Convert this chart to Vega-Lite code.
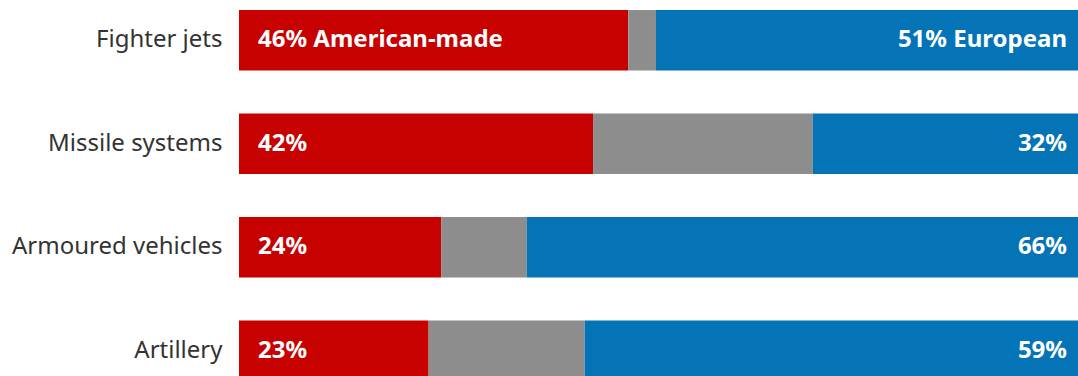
{
  "$schema": "https://vega.github.io/schema/vega-lite/v6.json",
  "autosize": "none",
  "padding": {"left": 239, "top": 10, "right": 0, "bottom": 0},
  "width": 839,
  "height": 371,
  "background": "white",
  "config": {"view": {"stroke": null}, "font": "Noto Sans"},
  "data": {
    "values": [
      {"category": "Fighter jets", "segment": "American", "rank": 1, "value": 46.4, "label": "46% American-made"},
      {"category": "Fighter jets", "segment": "Other", "rank": 2, "value": 3.3, "label": ""},
      {"category": "Fighter jets", "segment": "European", "rank": 3, "value": 50.3, "label": "51% European"},
      {"category": "Missile systems", "segment": "American", "rank": 1, "value": 42.2, "label": "42%"},
      {"category": "Missile systems", "segment": "Other", "rank": 2, "value": 26.2, "label": ""},
      {"category": "Missile systems", "segment": "European", "rank": 3, "value": 31.6, "label": "32%"},
      {"category": "Armoured vehicles", "segment": "American", "rank": 1, "value": 24.1, "label": "24%"},
      {"category": "Armoured vehicles", "segment": "Other", "rank": 2, "value": 10.2, "label": ""},
      {"category": "Armoured vehicles", "segment": "European", "rank": 3, "value": 65.7, "label": "66%"},
      {"category": "Artillery", "segment": "American", "rank": 1, "value": 22.6, "label": "23%"},
      {"category": "Artillery", "segment": "Other", "rank": 2, "value": 18.6, "label": ""},
      {"category": "Artillery", "segment": "European", "rank": 3, "value": 58.8, "label": "59%"}
    ]
  },
  "encoding": {
    "y": {
      "field": "category",
      "type": "nominal",
      "sort": ["Fighter jets", "Missile systems", "Armoured vehicles", "Artillery"],
      "scale": {"paddingInner": 0.415, "paddingOuter": 0},
      "axis": {
        "title": null,
        "domain": false,
        "ticks": false,
        "labelPadding": 17,
        "labelFontSize": 24,
        "labelLimit": 0,
        "labelColor": "#333333",
        "labelFont": "Noto Sans"
      }
    }
  },
  "layer": [
    {
      "mark": {"type": "bar"},
      "encoding": {
        "x": {
          "field": "value",
          "type": "quantitative",
          "stack": "zero",
          "scale": {"domain": [0, 100], "nice": false},
          "axis": null
        },
        "order": {"field": "rank", "type": "quantitative", "sort": "ascending"},
        "color": {
          "field": "segment",
          "type": "nominal",
          "scale": {"domain": ["American", "Other", "European"], "range": ["#c70000", "#8d8d8d", "#0574b6"]},
          "legend": null
        }
      }
    },
    {
      "transform": [{"filter": "datum.segment === 'American'"}],
      "mark": {"type": "text", "align": "left", "baseline": "middle", "dx": 19, "color": "white", "fontWeight": "bold", "fontSize": 24, "font": "Noto Sans"},
      "encoding": {
        "x": {"datum": 0, "type": "quantitative"},
        "text": {"field": "label"}
      }
    },
    {
      "transform": [{"filter": "datum.segment === 'European'"}],
      "mark": {"type": "text", "align": "right", "baseline": "middle", "dx": -11, "color": "white", "fontWeight": "bold", "fontSize": 24, "font": "Noto Sans"},
      "encoding": {
        "x": {"datum": 100, "type": "quantitative"},
        "text": {"field": "label"}
      }
    }
  ]
}
